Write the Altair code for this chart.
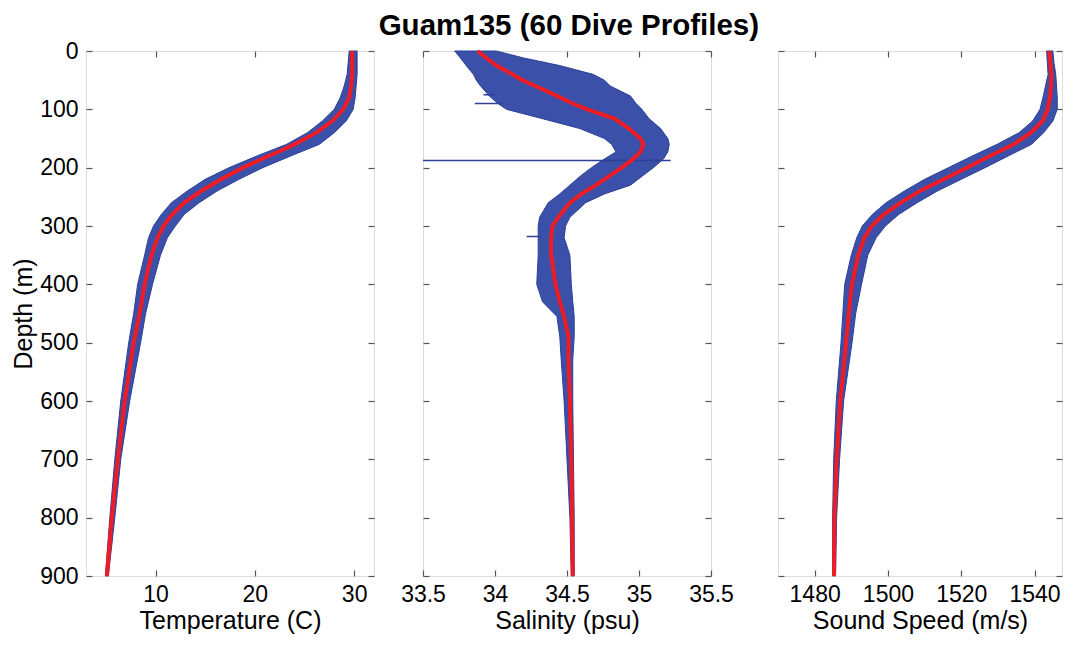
import altair as alt
import pandas as pd

# ---------------- data ----------------
# Temperature panel (depth m, envelope low/high, mean in deg C)
t_depth = [0, 20, 40, 60, 80, 100, 120, 140, 160, 180, 200, 220, 240, 260, 280, 300, 320, 350, 400, 450, 500, 600, 700, 800, 900]
t_mean = [29.8, 29.8, 29.8, 29.7, 29.5, 28.9, 27.8, 26.2, 24.0, 21.4, 18.8, 16.6, 14.6, 12.9, 11.7, 10.8, 10.2, 9.6, 8.9, 8.4, 7.8, 6.9, 6.2, 5.6, 5.1]
t_lo = [29.5, 29.4, 29.3, 29.0, 28.6, 28.0, 26.8, 25.3, 23.2, 20.2, 17.4, 15.0, 13.2, 11.6, 10.6, 9.8, 9.3, 8.9, 8.2, 7.8, 7.3, 6.5, 5.9, 5.4, 4.95]
t_hi = [30.3, 30.3, 30.3, 30.2, 30.1, 29.9, 29.2, 28.0, 26.5, 23.6, 20.8, 18.4, 16.2, 14.4, 12.9, 12.0, 11.2, 10.5, 9.7, 9.0, 8.5, 7.4, 6.5, 5.9, 5.25]

# Salinity panel (psu)
s_depth = [0, 12, 25, 40, 50, 60, 77, 90, 100, 116, 133, 150, 160, 173, 185, 200, 215, 230, 245, 260, 285, 300, 320, 350, 400, 430, 455, 490, 530, 600, 700, 800, 900]
s_mean = [33.88, 33.94, 34.01, 34.12, 34.19, 34.28, 34.43, 34.54, 34.64, 34.83, 34.93, 35.01, 35.03, 35.01, 34.96, 34.88, 34.79, 34.70, 34.60, 34.52, 34.44, 34.40, 34.39, 34.39, 34.42, 34.45, 34.48, 34.51, 34.51, 34.52, 34.53, 34.535, 34.54]
s_lo = [33.72, 33.76, 33.80, 33.85, 33.87, 33.90, 33.96, 34.02, 34.08, 34.33, 34.59, 34.76, 34.81, 34.84, 34.76, 34.67, 34.59, 34.52, 34.45, 34.37, 34.31, 34.30, 34.30, 34.30, 34.29, 34.33, 34.43, 34.45, 34.46, 34.48, 34.50, 34.52, 34.53]
s_hi = [34.01, 34.20, 34.45, 34.68, 34.76, 34.80, 34.94, 34.98, 35.02, 35.07, 35.15, 35.20, 35.21, 35.20, 35.17, 35.10, 35.02, 34.94, 34.76, 34.63, 34.52, 34.49, 34.48, 34.52, 34.53, 34.54, 34.55, 34.55, 34.54, 34.54, 34.545, 34.55, 34.55]

# stray salinity spikes in single profiles
spike_depth = [75, 90, 187.5, 318]
spike_from = [33.92, 33.86, 33.5, 34.22]
spike_to = [34.0, 34.05, 35.22, 34.32]

# Sound speed panel (m/s)
c_depth = [0, 20, 40, 60, 80, 100, 120, 140, 160, 180, 200, 220, 240, 260, 280, 300, 320, 350, 400, 450, 500, 600, 700, 800, 900]
c_mean = [1544.0, 1544.3, 1544.6, 1544.5, 1544.2, 1543.6, 1542.2, 1539.0, 1534.3, 1527.8, 1521.5, 1515.2, 1508.7, 1503.5, 1498.9, 1495.6, 1493.6, 1491.9, 1490.2, 1489.3, 1488.6, 1487.0, 1486.0, 1485.4, 1485.3]
c_lo = [1543.3, 1543.5, 1543.7, 1543.0, 1542.3, 1541.5, 1539.5, 1535.8, 1529.8, 1523.0, 1516.5, 1510.0, 1504.5, 1499.5, 1495.8, 1493.0, 1491.5, 1490.0, 1488.2, 1487.7, 1487.2, 1485.9, 1485.2, 1484.9, 1484.9]
c_hi = [1545.0, 1545.3, 1545.8, 1546.0, 1546.2, 1546.2, 1545.0, 1542.5, 1539.2, 1532.8, 1526.5, 1520.0, 1513.5, 1508.0, 1503.0, 1499.3, 1496.8, 1494.5, 1492.8, 1491.2, 1490.2, 1487.9, 1486.8, 1486.0, 1485.7]

depth_ticks = [0, 100, 200, 300, 400, 500, 600, 700, 800, 900]
t_ticks = [10, 20, 30]
s_ticks = [33.5, 34, 34.5, 35, 35.5]
c_ticks = [1480, 1500, 1520, 1540]

# ---------------- styling ----------------
BLUE = "#3b50a8"
BLUE_EDGE = "#2e3f98"
RED = "#ee1c25"
FRAME = "#555555"
FONT = "Liberation Sans"
LFS = 23   # tick labels
TFS = 25   # axis titles
H = 525

depth_scale = alt.Scale(domain=[0, 900], reverse=True, nice=False, zero=False)


def y_left(show_labels):
    kw = dict(orient="left", values=depth_ticks, offset=-6, domain=False,
              tickSize=6, tickColor=FRAME, tickWidth=1.2, labelPadding=8,
              labelFontSize=LFS, labelFont=FONT, labelColor="black",
              grid=False)
    if show_labels:
        kw.update(title="Depth (m)", titleFontSize=TFS, titleFont=FONT,
                  titleFontWeight="normal", titleColor="black", titlePadding=3.5)
    else:
        # blank labels keep the same vertical overhang as the first panel
        kw.update(labelExpr="' '", labelOpacity=0, title=None)
    return alt.Axis(**kw)


def y_right():
    return alt.Axis(orient="right", values=depth_ticks, offset=-6, domain=False,
                    tickSize=6, tickColor=FRAME, tickWidth=1.2, labels=False,
                    grid=False, title=None)


def x_bottom(ticks, title, fmt):
    return alt.Axis(orient="bottom", values=ticks, offset=-6, domain=False,
                    tickSize=6, tickColor=FRAME, tickWidth=1.2, labelPadding=7,
                    labelFontSize=LFS, labelFont=FONT, labelColor="black",
                    labelFlush=False, labelOverlap=False, format=fmt, grid=False,
                    title=title, titleFontSize=TFS, titleFont=FONT,
                    titleFontWeight="normal", titleColor="black", titlePadding=2)


def x_top(ticks):
    return alt.Axis(orient="top", values=ticks, offset=-6, domain=False,
                    tickSize=6, tickColor=FRAME, tickWidth=1.2, labels=False,
                    grid=False, title=None)


def panel(depth, lo, hi, mean, xdom, ticks, title, fmt, show_y, width, spikes=None):
    df = pd.DataFrame({"depth": depth, "lo": lo, "hi": hi, "mean": mean})
    xs = alt.Scale(domain=xdom, nice=False, zero=False)
    band = alt.Chart(df).mark_area(orient="horizontal", color=BLUE, opacity=1,
                                   stroke=BLUE_EDGE, strokeWidth=1).encode(
        y=alt.Y("depth:Q", scale=depth_scale, axis=y_left(show_y)),
        x=alt.X("lo:Q", scale=xs, axis=x_bottom(ticks, title, fmt)),
        x2="hi:Q",
    )
    line = alt.Chart(df).mark_line(color=RED, strokeWidth=4).encode(
        y=alt.Y("depth:Q", scale=depth_scale, axis=y_right()),
        x=alt.X("mean:Q", scale=xs, axis=x_top(ticks)),
        order=alt.Order("depth:Q"),
    )
    layers = [band]
    if spikes is not None:
        sp = alt.Chart(spikes).mark_rule(color=BLUE_EDGE, strokeWidth=1.5).encode(
            y=alt.Y("depth:Q", scale=depth_scale, axis=None),
            x=alt.X("s0:Q", scale=xs, axis=None),
            x2="s1:Q",
        )
        layers.append(sp)
    layers.append(line)
    return alt.layer(*layers).resolve_axis(x="independent", y="independent").properties(
        width=width, height=H)


spikes_df = pd.DataFrame({"depth": spike_depth, "s0": spike_from, "s1": spike_to})

p1 = panel(t_depth, t_lo, t_hi, t_mean, [3, 32], t_ticks, "Temperature (C)", "d", True, 288)
p2 = panel(s_depth, s_lo, s_hi, s_mean, [33.5, 35.5], s_ticks, "Salinity (psu)", "~g", False, 288, spikes_df)
p3 = panel(c_depth, c_lo, c_hi, c_mean, [1470, 1547.5], c_ticks, "Sound Speed (m/s)", "d", False, 284)

chart = alt.hconcat(alt.hconcat(p1, p2, spacing=24), p3, spacing=35).properties(
    title=alt.Title("Guam135 (60 Dive Profiles)", fontSize=29.5, font=FONT,
                    fontWeight="bold", color="black", anchor="middle", dx=32, offset=-2),
    padding={"left": 2, "top": 3, "right": 0, "bottom": 0},
).configure_view(stroke=FRAME, strokeWidth=1.5).configure(background="white")

chart.save("out.html", embed_options={"renderer": "svg", "actions": False})
